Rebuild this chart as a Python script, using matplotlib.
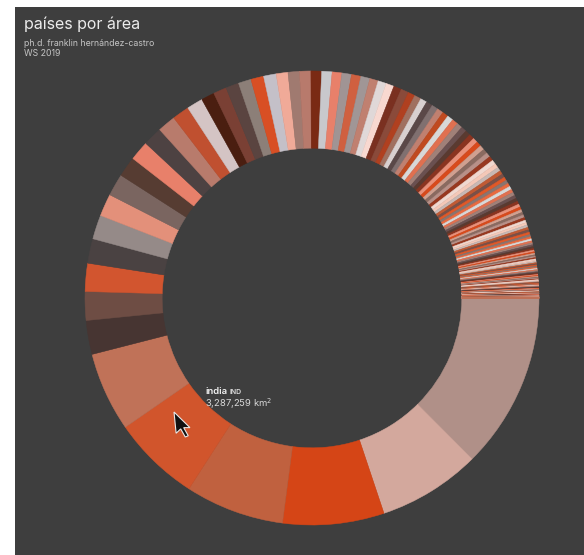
#!/usr/bin/env python3
"""Donut of countries by area (países por área)."""

import matplotlib
matplotlib.use("Agg")
import matplotlib.pyplot as plt
from matplotlib.patches import Polygon, Rectangle

W, H = 584, 555
BG = "#3e3e3e"

countries = [
    "Russia", "Canada", "United States", "China", "Brazil", "Australia", "India",
    "Argentina", "Kazakhstan", "Algeria", "DR Congo", "Greenland", "Saudi Arabia",
    "Mexico", "Indonesia", "Sudan", "Libya", "Iran", "Mongolia", "Peru", "Chad",
    "Niger", "Angola", "Mali", "South Africa", "Colombia", "Ethiopia", "Bolivia",
    "Mauritania", "Egypt", "Tanzania", "Nigeria", "Venezuela", "Pakistan", "Namibia",
    "Mozambique", "Turkey", "Chile", "Zambia", "Myanmar", "Afghanistan", "Somalia",
    "Central African Republic", "South Sudan", "Ukraine", "Madagascar", "Botswana",
    "Kenya", "France", "Yemen", "Thailand", "Spain", "Turkmenistan", "Cameroon",
    "Papua New Guinea", "Sweden", "Uzbekistan", "Morocco", "Iraq", "Paraguay",
    "Zimbabwe", "Japan", "Germany", "Congo", "Finland", "Vietnam", "Malaysia",
    "Norway", "Ivory Coast", "Poland", "Oman", "Italy", "Philippines", "Ecuador",
    "Burkina Faso", "New Zealand", "Gabon", "Western Sahara", "Guinea",
    "United Kingdom", "Uganda", "Ghana", "Romania", "Laos", "Guyana", "Belarus",
    "Kyrgyzstan", "Senegal", "Syria", "Cambodia", "Uruguay", "Suriname", "Tunisia",
    "Bangladesh", "Nepal", "Tajikistan", "Greece", "Nicaragua", "North Korea",
    "Malawi", "Eritrea", "Benin", "Honduras", "Liberia", "Bulgaria", "Cuba",
    "Guatemala", "Iceland", "South Korea", "Hungary", "Portugal", "Jordan", "Serbia",
    "Azerbaijan", "Austria", "United Arab Emirates", "Czechia", "Panama",
    "Sierra Leone", "Ireland", "Georgia", "Sri Lanka", "Lithuania", "Latvia",
    "Svalbard", "Togo", "Croatia", "Bosnia and Herzegovina", "Costa Rica",
    "Slovakia", "Dominican Republic", "Estonia", "Denmark", "Netherlands",
    "Switzerland", "Bhutan", "Taiwan", "Guinea-Bissau", "Moldova", "Belgium",
    "Lesotho", "Armenia", "Solomon Islands", "Albania", "Equatorial Guinea",
    "Burundi", "Haiti", "Rwanda", "North Macedonia", "Djibouti", "Belize",
    "El Salvador", "Israel", "Slovenia", "New Caledonia", "Fiji", "Kuwait",
    "Eswatini", "Timor-Leste", "Bahamas", "Montenegro", "Vanuatu",
    "Falkland Islands", "Qatar", "Gambia", "Jamaica", "Kosovo", "Lebanon", "Cyprus",
    "Puerto Rico", "Palestine", "Brunei", "Trinidad and Tobago", "French Polynesia",
    "Cape Verde", "South Georgia", "Samoa", "Luxembourg", "Mauritius", "Comoros",
    "Faroe Islands", "São Tomé and Príncipe", "Turks and Caicos", "Kiribati",
    "Bahrain", "Dominica", "Tonga", "Singapore", "Micronesia", "Saint Lucia",
    "Isle of Man", "Guam", "Andorra", "Northern Mariana Islands", "Palau",
    "Seychelles", "Curaçao", "Antigua and Barbuda", "Barbados", "Saint Vincent",
    "US Virgin Islands", "Grenada", "Malta", "Maldives", "Cayman Islands",
    "Saint Kitts and Nevis", "Niue", "Cook Islands", "American Samoa",
    "Marshall Islands", "Aruba", "Liechtenstein", "British Virgin Islands",
    "Wallis and Futuna", "Jersey", "Montserrat", "Anguilla", "Guernsey",
    "San Marino", "Bermuda", "Tuvalu", "Nauru", "Gibraltar", "Monaco",
]

area_km2 = [
    17098242, 9984670, 9833517, 9596961, 8515767, 7692024, 3287259,
    2780400, 2724900, 2381741, 2344858, 2166086, 2149690,
    1964375, 1904569, 1861484, 1759540, 1648195, 1564110, 1285216, 1284000,
    1267000, 1246700, 1240192, 1221037, 1141748, 1104300, 1098581,
    1030700, 1002450, 945087, 923768, 916445, 881913, 825615,
    801590, 783562, 756102, 752612, 676578, 652230, 637657,
    622984, 619745, 603500, 587041, 582000,
    580367, 551695, 527968, 513120, 505992, 488100, 475442,
    462840, 450295, 447400, 446550, 438317, 406752,
    390757, 377930, 357114, 342000, 338424, 331212, 330803,
    323802, 322463, 312679, 309500, 301336, 300000, 276841,
    272967, 270467, 267668, 266000, 245857,
    242900, 241550, 238533, 238397, 236800, 214969, 207600,
    199951, 196722, 185180, 181035, 181034, 163820, 163610,
    147570, 147181, 143100, 131957, 130373, 120538,
    118484, 117600, 114763, 112492, 111369, 110879, 109884,
    108889, 103000, 100210, 93028, 92090, 89342, 88361,
    86600, 83871, 83600, 78865, 75417,
    71740, 70273, 69700, 65610, 65300, 64559,
    61399, 56785, 56594, 51209, 51100,
    49037, 48671, 45227, 43094, 41850,
    41284, 38394, 36193, 36125, 33846, 30528,
    30355, 29743, 28896, 28748, 28051,
    27834, 27750, 26338, 25713, 23200, 22966,
    21041, 20770, 20273, 18575, 18272, 17818,
    17364, 14874, 13943, 13812, 12189,
    12173, 11586, 11295, 10991, 10908, 10452, 9251,
    8870, 6220, 5765, 5130, 4167,
    4033, 3903, 2842, 2586, 2040, 1862,
    1393, 964, 948, 811,
    765, 751, 747, 710, 702, 616,
    572, 549, 468, 464, 459,
    452, 444, 442, 430, 389,
    347, 344, 316, 300, 264,
    261, 260, 236, 199,
    181, 180, 160, 151,
    142, 116, 102, 91, 78,
    61, 54, 26, 21, 6, 2,
]

# colours of the largest slices, in drawing order
head_colors = [
    "#b09088", "#d3a89d", "#d54516", "#c0613f", "#d1552c", "#c07258", "#473532",
    "#6e4d44", "#d2552f", "#4a4242", "#958a88", "#e3907a", "#7a6560", "#563c32",
    "#e8806a", "#4d4242", "#b87b6c", "#c05030", "#d4c4c4", "#4a1e10", "#7a4034",
    "#5a4440", "#8c7f78", "#d84f24", "#c4c0c8", "#f0aa98", "#a07a70", "#b87a6c",
    "#7a2a14", "#c8c8cc", "#e8806a", "#a09494", "#d06040", "#a09696", "#c08070",
    "#e0d8d8", "#f8d8d0", "#7a3020", "#8a4a3a", "#b04020", "#a07060", "#d8d0d0",
    "#5a4848", "#807070", "#c08070", "#c04a20",
]
tail_palette = [
    "#d8d8d8", "#6a5050", "#e8907a", "#8a6a60", "#f0d8d0", "#c05a34", "#8a7570",
    "#e07050", "#5a3a30", "#d84a1c", "#b89088", "#f4c8b8", "#7a5048", "#e86a40",
    "#a08078", "#8a3420", "#d0a090", "#983820", "#c8b8b4", "#e05828",
]

colors = list(head_colors)
for i in range(len(area_km2) - len(head_colors)):
    colors.append(tail_palette[(i * 7) % len(tail_palette)])

fig = plt.figure(figsize=(W / 100, H / 100), dpi=100, facecolor="white")

# dark panel (white strip on the left and top)
fig.patches.append(Rectangle((15 / W, 0), 1 - 15 / W, 1 - 7 / H,
                             transform=fig.transFigure, facecolor=BG,
                             edgecolor="none", zorder=-10))

cx, cy, r = 312, 298, 227
ax = fig.add_axes([(cx - r) / W, (H - cy - r) / H, 2 * r / W, 2 * r / H])
ax.set_zorder(1)
ax.set_facecolor("none")
wedges, _ = ax.pie(area_km2, colors=colors, startangle=0, counterclock=False,
                   radius=1.0, wedgeprops=dict(width=0.34, linewidth=0.35))
for w in wedges:
    w.set_edgecolor(w.get_facecolor())
ax.set_xlim(-1, 1)
ax.set_ylim(-1, 1)
ax.set_aspect("equal")
ax.axis("off")

font = "Inter"


def px(x, y):
    return x / W, 1 - y / H


fig.text(*px(24, 29), "países por área", fontsize=11.5, color="#ececec",
         family=font, va="baseline", zorder=3)
fig.text(*px(24, 46), "ph.d. franklin hernández-castro", fontsize=6.3,
         color="#c4c4c4", family=font, va="baseline", zorder=3)
fig.text(*px(24, 56), "WS 2019", fontsize=6.3, color="#c4c4c4",
         family=font, va="baseline", zorder=3)

# tooltip of the hovered slice
idx = countries.index("India")
fig.text(*px(205, 394), countries[idx].lower(), fontsize=6.8,
         color="#f0f0f0", family=font, weight="semibold", va="baseline", zorder=3)
fig.text(*px(229, 394), "IND", fontsize=5.0, color="#e0e0e0", family=font,
         weight="semibold", va="baseline", zorder=3)
fig.text(*px(205, 407), f"{area_km2[idx]:,} km$^2$", fontsize=6.8,
         color="#d8d8d8", family=font, va="baseline", zorder=3)

# mouse pointer
tip_x, tip_y, s = 174, 412, 1.25
shape = [(0, 0), (0, 17), (4, 13.5), (7, 20), (9.5, 19), (6.5, 12.5), (11.5, 12.5)]
pts = [px(tip_x + s * (dx + 0.1 * dy), tip_y + s * dy) for dx, dy in shape]
fig.patches.append(Polygon(pts, closed=True, transform=fig.transFigure,
                           facecolor="#111111", edgecolor="#e8e8e8",
                           linewidth=0.8, zorder=5))

fig.savefig("out.png", dpi=100, facecolor="white")
